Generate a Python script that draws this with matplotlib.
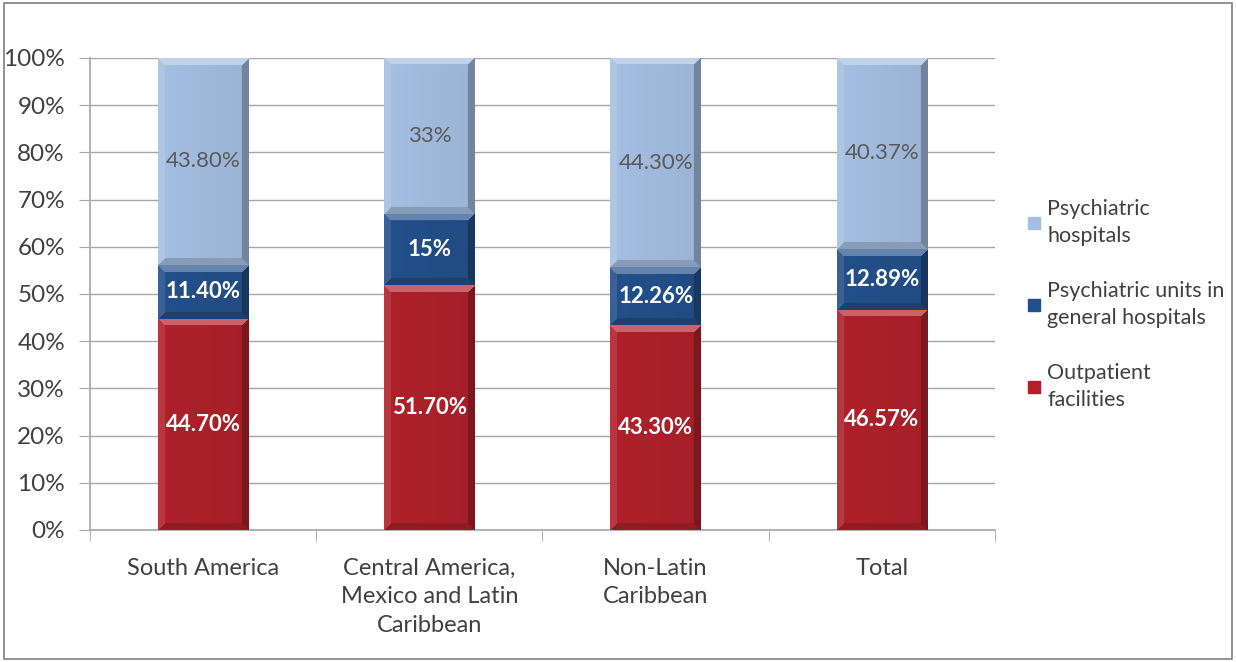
import numpy as np
import matplotlib
matplotlib.use("Agg")
import matplotlib.pyplot as plt
from matplotlib.lines import Line2D
from matplotlib.colors import to_rgb
from matplotlib.patches import Rectangle

# data
categories = ["South America", "Central America,\nMexico and Latin\nCaribbean",
              "Non-Latin\nCaribbean", "Total"]
outpatient = [44.70, 51.70, 43.30, 46.57]
units_general = [11.40, 15.0, 12.26, 12.89]
psych_hospitals = [43.80, 33.0, 44.30, 40.37]
labels_out = ["44.70%", "51.70%", "43.30%", "46.57%"]
labels_units = ["11.40%", "15%", "12.26%", "12.89%"]
labels_hosp = ["43.80%", "33%", "44.30%", "40.37%"]

series = [
    ("Outpatient\nfacilities", outpatient, labels_out, "#B0212A", "white", "bold"),
    ("Psychiatric units in\ngeneral hospitals", units_general, labels_units, "#23508A", "white", "bold"),
    ("Psychiatric\nhospitals", psych_hospitals, labels_hosp, "#A5BFE2", "#595959", "normal"),
]

plt.rcParams["font.family"] = ["Lato", "DejaVu Sans"]

fig = plt.figure(figsize=(12.36, 6.62), dpi=100)
fig.patches.append(Rectangle((0.003, 0.004), 0.994, 0.991, transform=fig.transFigure,
                             fill=False, edgecolor="#7F7F7F", lw=1.2))
ax = fig.add_axes([0.0728, 0.1994, 0.7322, 0.713])

totals = np.array(outpatient) + np.array(units_general) + np.array(psych_hospitals)
x = np.arange(len(categories))
width = 0.4
px_per_x = 226.0
px_per_y = 4.72


def bevel_image(color, w_px, h_px, b=7):
    base = np.array(to_rgb(color))
    h_px = max(int(round(h_px)), 2)
    w_px = max(int(round(w_px)), 2)
    yy, xx = np.mgrid[0:h_px, 0:w_px]
    dists = np.stack([yy, xx, w_px - 1 - xx, h_px - 1 - yy])
    which = np.argmin(dists, axis=0)
    dmin = np.min(dists, axis=0)
    shade = np.zeros((h_px, w_px))
    amounts = [0.3, 0.1, -0.3, -0.18]
    for k, a in enumerate(amounts):
        shade[which == k] = a
    shade[dmin >= b] = 0
    face = dmin >= b
    shade[face] += -0.06 * (xx[face] / w_px)
    img = np.empty((h_px, w_px, 3))
    for c in range(3):
        ch = base[c]
        img[..., c] = np.where(shade >= 0, ch + (1 - ch) * shade, ch * (1 + shade))
    return np.clip(img, 0, 1)


bottom = np.zeros(len(categories))
for name, vals, labs, color, tcolor, weight in series:
    pct = np.array(vals) / totals * 100
    for i in range(len(categories)):
        img = bevel_image(color, width * px_per_x, pct[i] * px_per_y)
        ax.imshow(img, extent=[x[i] - width / 2, x[i] + width / 2, bottom[i], bottom[i] + pct[i]],
                  origin="upper", aspect="auto", zorder=3, interpolation="bilinear")
        ax.text(x[i], bottom[i] + pct[i] / 2, labs[i], ha="center", va="center",
                color=tcolor, fontsize=16, fontweight=weight, zorder=4)
    bottom += pct

ax.set_xlim(-0.5, len(categories) - 0.5)
ax.set_ylim(0, 100)
ax.set_yticks(np.arange(0, 101, 10))
ax.set_yticklabels([f"{v}%" for v in range(0, 101, 10)])
ax.yaxis.grid(True, color="#A6A6A6", lw=1.0, zorder=0)
ax.set_axisbelow(True)
ax.set_xticks(x)
ax.set_xticklabels(categories, fontsize=17, color="#404040", linespacing=1.45)
ax.set_xticks(np.arange(-0.5, len(categories), 1), minor=True)
ax.tick_params(axis="x", which="major", length=0, pad=20)
ax.tick_params(axis="x", which="minor", length=8, color="#A6A6A6", direction="out")
ax.tick_params(axis="y", length=8, color="#A6A6A6", labelsize=17.5, labelcolor="#404040", pad=10)
for s in ["top", "right"]:
    ax.spines[s].set_visible(False)
for s in ["left", "bottom"]:
    ax.spines[s].set_color("#A6A6A6")
    ax.spines[s].set_linewidth(1.2)

handles = [Line2D([0], [0], marker="s", color="none", markerfacecolor=c, markeredgecolor=c,
                  markersize=8) for _, _, _, c, _, _ in series][::-1]
names = [s[0] for s in series][::-1]
leg = fig.legend(handles, names, loc="center left", bbox_to_anchor=(0.814, 0.54), frameon=False,
                 fontsize=15.5, labelcolor="#404040", handletextpad=0.2, labelspacing=1.6,
                 handlelength=0.8)
for t in leg.get_texts():
    t.set_linespacing(1.45)

fig.savefig("out.png", dpi=100)
